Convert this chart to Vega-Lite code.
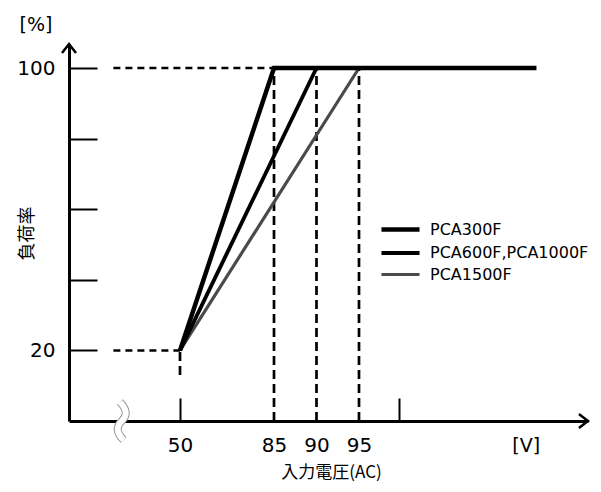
{
  "$schema": "https://vega.github.io/schema/vega-lite/v6.json",
  "width": 519,
  "height": 377,
  "autosize": {"type": "none"},
  "padding": {"left": 69, "top": 44, "right": 13, "bottom": 71},
  "background": "white",
  "config": {"view": {"stroke": null}, "font": "DejaVu Sans"},
  "datasets": {
    "lines": [
      {"series": "PCA1500F", "v": 50, "load": 20},
      {"series": "PCA1500F", "v": 95, "load": 100},
      {"series": "PCA600F,PCA1000F", "v": 50, "load": 20},
      {"series": "PCA600F,PCA1000F", "v": 90, "load": 100},
      {"series": "PCA300F", "v": 50, "load": 20},
      {"series": "PCA300F", "v": 85, "load": 100},
      {"series": "PCA300F", "v": 116, "load": 100}
    ],
    "vdash": [
      {"v": 85, "from": 0, "to": 100},
      {"v": 90, "from": 0, "to": 100},
      {"v": 95, "from": 0, "to": 100}
    ],
    "hdash": [
      {"load": 100, "from": 38, "to": 85},
      {"load": 20, "from": 38, "to": 50}
    ],
    "stub": [{"v": 50, "from": 13, "to": 20}],
    "yarrow": [{"v": 30, "load": 106.8}],
    "xarrow": [{"v": 122, "load": 0}],
    "brk": [{"v": 39.5, "load": 0}],
    "yunit": [{"label": "[%]", "v": 30, "load": 112.2}],
    "xunit": [{"label": "[V]", "v": 114.8, "load": -7}]
  },
  "layer": [
    {
      "data": {"name": "hdash"},
      "mark": {"type": "rule", "strokeDash": [7, 5], "strokeWidth": 2.5, "color": "black"},
      "encoding": {
        "y": {
          "field": "load", "type": "quantitative",
          "scale": {"domain": [0, 106.8], "nice": false, "zero": false},
          "axis": {
            "values": [20, 40, 60, 80, 100],
            "labelExpr": "datum.value == 100 || datum.value == 20 ? datum.label : ''",
            "title": "負荷率",
            "titleFont": "Noto Sans CJK JP",
            "titleFontSize": 18,
            "titleFontWeight": "normal",
            "titleColor": "black",
            "titleX": -42,
            "titleY": 189,
            "titleAngle": -90,
            "titleAlign": "center",
            "titleBaseline": "middle",
            "domainColor": "black",
            "domainWidth": 3,
            "tickColor": "black",
            "tickWidth": 2,
            "tickSize": -28,
            "labelFontSize": 20,
            "labelColor": "black",
            "labelPadding": 42,
            "grid": false
          }
        },
        "x": {
          "field": "from", "type": "quantitative",
          "scale": {"domain": [30, 50, 85, 95, 100, 122], "range": [0, 111, 205, 290, 330, 519], "nice": false, "zero": false},
          "axis": {
            "values": [50, 85, 90, 95, 100],
            "labelExpr": "datum.value == 100 ? '' : datum.label",
            "title": "入力電圧(AC)",
            "titleFont": "Noto Sans CJK JP",
            "titleFontSize": 17,
            "titleFontWeight": "normal",
            "titleColor": "black",
            "titleX": 262,
            "titleY": 51,
            "titleBaseline": "middle",
            "titleAlign": "center",
            "domainColor": "black",
            "domainWidth": 3,
            "tickColor": "black",
            "tickWidth": 2,
            "tickSize": -23,
            "tickOpacity": {"condition": {"test": "datum.value == 50 || datum.value == 100", "value": 1}, "value": 0},
            "labelFontSize": 20,
            "labelColor": "black",
            "labelPadding": 47,
            "labelBaseline": "middle",
            "grid": false
          }
        },
        "x2": {"field": "to"}
      }
    },
    {
      "data": {"name": "vdash"},
      "mark": {"type": "rule", "strokeDash": [9, 5], "strokeWidth": 2.7, "color": "black"},
      "encoding": {
        "x": {"field": "v", "type": "quantitative"},
        "y": {"field": "from", "type": "quantitative"},
        "y2": {"field": "to"}
      }
    },
    {
      "data": {"name": "stub"},
      "mark": {"type": "rule", "strokeDash": [9, 5], "strokeWidth": 2.7, "color": "black"},
      "encoding": {
        "x": {"field": "v", "type": "quantitative"},
        "y": {"field": "from", "type": "quantitative"},
        "y2": {"field": "to"}
      }
    },
    {
      "data": {"name": "lines"},
      "mark": {"type": "line", "strokeCap": "butt", "strokeJoin": "miter"},
      "encoding": {
        "x": {"field": "v", "type": "quantitative"},
        "y": {"field": "load", "type": "quantitative"},
        "detail": {"field": "series"},
        "order": {"field": "v"},
        "strokeWidth": {
          "field": "series", "type": "nominal",
          "scale": {"domain": ["PCA300F", "PCA600F,PCA1000F", "PCA1500F"], "range": [4.5, 3.2, 1.3]},
          "legend": {
            "title": null,
            "orient": "none",
            "legendX": 317,
            "legendY": 171,
            "symbolType": "M-1.6,0L1.6,0",
            "symbolSize": 566,
            "labelFontSize": 16,
            "labelColor": "black",
            "labelOffset": 15,
            "rowPadding": 0
          }
        },
        "color": {
          "field": "series", "type": "nominal",
          "scale": {"domain": ["PCA300F", "PCA600F,PCA1000F", "PCA1500F"], "range": ["#000000", "#000000", "#4a4a4a"]},
          "legend": {
            "title": null,
            "orient": "none",
            "legendX": 317,
            "legendY": 171,
            "symbolType": "M-1.6,0L1.6,0",
            "symbolSize": 566,
            "labelFontSize": 16,
            "labelColor": "black",
            "labelOffset": 15,
            "rowPadding": 0
          }
        }
      }
    },
    {
      "data": {"name": "brk"},
      "mark": {"type": "point", "shape": "M-0.1,-1 C0.3,-0.6 0.3,-0.3 0,0 C-0.3,0.3 -0.3,0.6 0.1,1", "size": 1444, "filled": false, "stroke": "#999999", "strokeWidth": 8, "opacity": 1},
      "encoding": {"x": {"field": "v", "type": "quantitative"}, "y": {"field": "load", "type": "quantitative"}}
    },
    {
      "data": {"name": "brk"},
      "mark": {"type": "point", "shape": "M-0.1,-1 C0.3,-0.6 0.3,-0.3 0,0 C-0.3,0.3 -0.3,0.6 0.1,1", "size": 1444, "filled": false, "stroke": "white", "strokeWidth": 6, "opacity": 1},
      "encoding": {"x": {"field": "v", "type": "quantitative"}, "y": {"field": "load", "type": "quantitative"}}
    },
    {
      "data": {"name": "yarrow"},
      "mark": {"type": "point", "shape": "M-1,1.3 L0,0 L1,1.3", "size": 196, "filled": false, "stroke": "black", "strokeWidth": 2.5, "opacity": 1, "clip": false},
      "encoding": {"x": {"field": "v", "type": "quantitative"}, "y": {"field": "load", "type": "quantitative"}}
    },
    {
      "data": {"name": "xarrow"},
      "mark": {"type": "point", "shape": "M-1.3,-1 L0,0 L-1.3,1", "size": 196, "filled": false, "stroke": "black", "strokeWidth": 2.5, "opacity": 1, "clip": false},
      "encoding": {"x": {"field": "v", "type": "quantitative"}, "y": {"field": "load", "type": "quantitative"}}
    },
    {
      "data": {"name": "yunit"},
      "mark": {"type": "text", "fontSize": 19, "color": "black", "baseline": "middle", "align": "center", "dx": -33},
      "encoding": {
        "x": {"field": "v", "type": "quantitative"},
        "y": {"field": "load", "type": "quantitative"},
        "text": {"field": "label"}
      }
    },
    {
      "data": {"name": "xunit"},
      "mark": {"type": "text", "fontSize": 19, "color": "black", "baseline": "middle", "align": "center"},
      "encoding": {
        "x": {"field": "v", "type": "quantitative"},
        "y": {"field": "load", "type": "quantitative"},
        "text": {"field": "label"}
      }
    }
  ]
}
